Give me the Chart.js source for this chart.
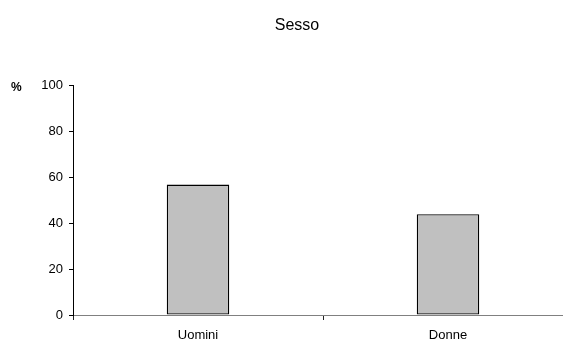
<!DOCTYPE html>
<html>
<head>
<meta charset="utf-8">
<script src="https://cdn.jsdelivr.net/npm/chart.js@4/dist/chart.umd.min.js"></script>
<style>
  html, body { margin: 0; padding: 0; background: #fff; overflow: hidden; width: 563px; height: 342px; }
  canvas { display: block; }
</style>
</head>
<body>
<canvas id="c" width="575" height="342"></canvas>
<script>
// Sesso: share of respondents by sex (%)
const categories = ['Uomini', 'Donne'];
const percent = [56.7, 43.8];
const yTicks = [0, 20, 40, 60, 80, 100];
const chartTitle = 'Sesso';
const unitLabel = '%';

const FONT = 'Liberation Sans, Arial, sans-serif';

// Title and unit mark drawn on the canvas
const headerText = {
  id: 'headerText',
  afterDraw(chart) {
    const ctx = chart.ctx;
    ctx.save();
    ctx.fillStyle = '#000';
    ctx.textBaseline = 'middle';
    ctx.textAlign = 'center';
    ctx.font = '16px ' + FONT;
    ctx.fillText(chartTitle, 297, 26);
    ctx.textAlign = 'left';
    ctx.font = 'bold 12px ' + FONT;
    ctx.fillText(unitLabel, 11, 88);
    ctx.restore();
  }
};

new Chart(document.getElementById('c'), {
  type: 'bar',
  data: {
    labels: categories,
    datasets: [{
      data: percent,
      backgroundColor: '#c0c0c0',
      borderColor: '#000',
      borderWidth: 1.3,
      borderSkipped: false,
      barPercentage: 0.5,
      categoryPercentage: 0.5
    }]
  },
  options: {
    responsive: false,
    animation: false,
    layout: { padding: { top: 85, right: 2, left: 0, bottom: 0 } },
    plugins: { legend: { display: false }, title: { display: false }, tooltip: { enabled: false } },
    scales: {
      x: {
        grid: { offset: true, drawOnChartArea: false, tickLength: 5, color: '#222', lineWidth: 1 },
        border: { color: '#808080', width: 1 },
        ticks: { color: '#000', font: { family: FONT, size: 13 }, padding: 8, maxRotation: 0 },
        afterFit(scale) { scale.height = 27; }
      },
      y: {
        min: 0, max: 100,
        afterBuildTicks(scale) { scale.ticks = yTicks.map(v => ({ value: v })); },
        grid: { drawOnChartArea: false, tickLength: 4, color: '#000' },
        border: { color: '#000', width: 1 },
        ticks: { color: '#000', font: { family: FONT, size: 13 }, padding: 6 },
        afterFit(scale) { scale.width = 73; }
      }
    }
  },
  plugins: [headerText]
});
</script>
</body>
</html>
